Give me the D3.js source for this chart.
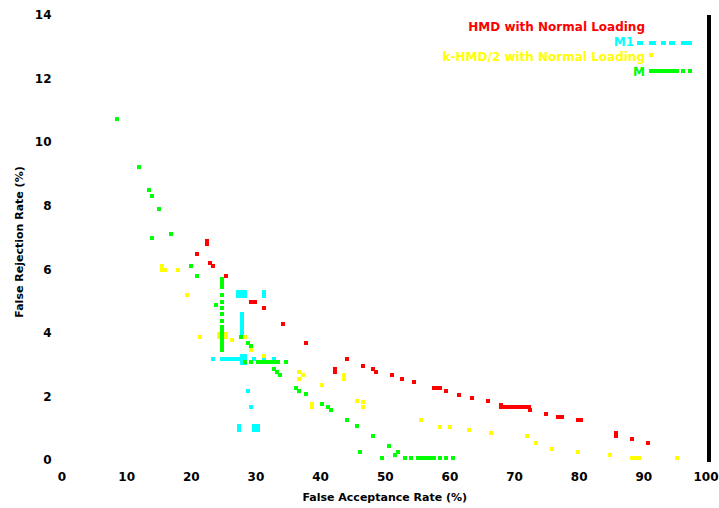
<!DOCTYPE html>
<html>
<head>
<meta charset="utf-8">
<script src="https://cdn.jsdelivr.net/npm/d3@7"></script>
<style>
  body { margin: 0; background: #fff; }
  svg { display: block; }
  text { font-family: "DejaVu Sans", sans-serif; font-weight: bold; }
</style>
</head>
<body>
<div id="chart"></div>
<script>
// tick labels
var xTicks = [0, 10, 20, 30, 40, 50, 60, 70, 80, 90, 100];
var yTicks = [0, 2, 4, 6, 8, 10, 12, 14];

// series (x = false acceptance %, y = false rejection %)
var hmdPoints = [[20.96,6.48],[22.51,6.89],[22.51,6.80],[22.97,6.20],[23.43,6.09],[25.45,5.79],
  [29.31,4.97],[29.93,4.97],[31.32,4.78],[34.26,4.28],[37.82,3.68],[42.23,2.86],[42.23,2.77],
  [44.16,3.18],[46.64,2.96],[48.18,2.86],[48.65,2.77],[51.12,2.67],[52.67,2.56],[54.60,2.45],
  [57.62,2.27],[58.24,2.27],[58.54,2.27],[59.55,2.17],[61.48,2.06],[63.50,1.95],[65.97,1.86],
  [67.98,1.73],[67.98,1.67],[68.60,1.67],[69.22,1.67],[69.84,1.67],[70.46,1.67],[71.08,1.67],
  [71.69,1.67],[72.31,1.67],[72.47,1.56],[74.94,1.45],[76.80,1.35],[77.42,1.35],[79.89,1.26],
  [80.36,1.26],[85.77,0.85],[85.77,0.76],[88.25,0.66],[90.72,0.55]];

var m1Points = [[27.30,5.29],[27.92,5.29],[28.46,5.29],[27.30,5.16],[27.92,5.16],[28.46,5.16],
  [31.32,5.29],[31.32,5.16],
  [27.92,4.59],[27.92,4.47],[27.92,4.34],[27.92,4.22],[27.92,4.09],[27.92,4.00],
  [23.43,3.18],[24.83,3.18],[25.45,3.18],[26.07,3.18],[26.68,3.18],[27.30,3.18],[27.92,3.18],
  [28.46,3.18],[29.85,3.18],[31.32,3.18],[32.87,3.18],
  [27.92,3.27],[28.46,3.27],[27.92,3.05],[28.46,3.05],
  [28.85,2.17],[29.31,1.67],[27.38,1.07],[27.38,0.94],[29.78,1.07],[30.39,1.07],[29.78,0.94],[30.39,0.94]];

var khmdPoints = [[15.55,6.10],[15.55,5.98],[16.01,5.98],[18.02,5.98],[19.41,5.19],[21.42,3.87],
  [24.36,3.96],[24.36,3.87],[25.45,3.96],[25.45,3.87],[26.37,3.78],[28.38,3.87],[29.31,3.46],
  [31.32,3.27],[36.74,2.77],[36.74,2.56],[37.36,2.67],[40.29,2.36],[43.70,2.67],[43.70,2.55],
  [38.75,1.76],[38.75,1.67],[45.71,1.86],[46.64,1.82],[46.64,1.67],[55.61,1.26],[58.54,1.05],
  [60.09,1.05],[63.03,0.94],[66.43,0.85],[71.93,0.76],[73.40,0.55],[75.87,0.35],[79.89,0.25],
  [84.84,0.16],[88.25,0.05],[88.86,0.05],[89.33,0.05],[95.20,0.05]];

var mPoints = [[8.60,10.73],[11.99,9.22],[13.53,8.49],[14.00,8.31],[15.08,7.90],[16.94,7.11],
  [14.00,6.98],[20.03,6.10],[20.96,5.79],[23.90,4.88],
  [24.90,5.69],[24.90,5.57],[24.90,5.44],[24.90,5.19],[24.90,4.97],[24.90,4.78],[24.90,4.59],
  [24.90,4.37],[24.90,4.18],[24.90,4.06],[24.90,3.93],[24.90,3.81],[24.90,3.68],[24.90,3.55],
  [24.90,3.46],
  [27.84,3.87],[28.85,3.68],[29.31,3.59],
  [28.38,3.07],[29.31,3.07],[30.39,3.07],[31.01,3.07],[31.63,3.07],[32.25,3.07],[32.87,3.07],
  [33.49,3.07],[34.73,3.07],
  [32.87,2.86],[33.33,2.77],[33.80,2.67],[36.27,2.27],[36.74,2.17],[37.82,2.08],[40.29,1.76],
  [41.22,1.67],[41.69,1.57],[44.16,1.26],[45.71,1.07],[46.17,0.25],[48.18,0.76],[49.57,0.06],
  [50.66,0.44],[51.59,0.16],[52.06,0.25],[53.13,0.06],[54.06,0.06],[55.14,0.06],[55.76,0.06],
  [56.38,0.06],[57.00,0.06],[57.61,0.06],[58.54,0.06],[59.47,0.06],[60.55,0.06]];

var seriesNames = ["HMD with Normal Loading", "M1", "k-HMD/2 with Normal Loading", "M"];
var seriesColors = ["#ff0000", "#00ffff", "#ffff00", "#00ff00"];
var seriesData = [hmdPoints, m1Points, khmdPoints, mPoints];

var width = 719, height = 508;
var plot = {left: 61.5, right: 708, top: 15, bottom: 460};

var svg = d3.select("#chart").append("svg")
    .attr("width", width)
    .attr("height", height)
    .style("background", "#fff");

var x = d3.scaleLinear().domain([0, 100]).range([plot.left, plot.right]);
var y = d3.scaleLinear().domain([0, 14]).range([plot.bottom, plot.top]);

// axes: labels only, like the reference
var xAxis = svg.append("g")
    .attr("transform", "translate(0," + plot.bottom + ")")
    .call(d3.axisBottom(x).tickValues(xTicks).tickSize(0).tickPadding(12));
xAxis.select(".domain").remove();
xAxis.selectAll("text")
    .style("font-size", "12px")
    .attr("fill", "#000")
    .attr("text-anchor", function(d){ return d == 100 ? "end" : "middle"; })
    .attr("dx", function(d){ return d == 100 ? "10px" : 0; });

var yAxis = svg.append("g")
    .attr("transform", "translate(" + plot.left + ",0)")
    .call(d3.axisLeft(y).tickValues(yTicks).tickSize(0).tickPadding(10));
yAxis.select(".domain").remove();
yAxis.selectAll("text").style("font-size", "12px").attr("fill", "#000");

// right border
svg.append("rect")
    .attr("x", plot.right - 1)
    .attr("y", plot.top)
    .attr("width", 4)
    .attr("height", plot.bottom - plot.top + 2)
    .attr("fill", "#000");

// axis titles
svg.append("text")
    .attr("x", (plot.left + plot.right) / 2)
    .attr("y", 501)
    .attr("text-anchor", "middle")
    .style("font-size", "11px")
    .text("False Acceptance Rate (%)");

svg.append("text")
    .attr("transform", "translate(23," + 242 + ") rotate(-90)")
    .attr("text-anchor", "middle")
    .style("font-size", "11px")
    .text("False Rejection Rate (%)");

// points
seriesData.forEach(function(points, i){
    svg.append("g")
        .selectAll("rect")
        .data(points)
        .enter().append("rect")
        .attr("x", function(d){ return x(d[0]) - 2; })
        .attr("y", function(d){ return y(d[1]) - 2; })
        .attr("width", 4)
        .attr("height", 4)
        .attr("fill", seriesColors[i])
        .attr("shape-rendering", "crispEdges");
});

// legend
var legend = svg.append("g");
var labelEnds = [645, 634, 645, 645];
seriesNames.forEach(function(name, i){
    var base = 31 + i * 15;
    legend.append("text")
        .attr("x", labelEnds[i])
        .attr("y", base)
        .attr("text-anchor", "end")
        .attr("fill", seriesColors[i])
        .style("font-size", "12px")
        .text(name);
    if (i == 1) {
        legend.append("line")
            .attr("x1", 637).attr("x2", 692)
            .attr("y1", base - 3).attr("y2", base - 3)
            .attr("stroke", seriesColors[i])
            .attr("stroke-width", 4)
            .attr("stroke-dasharray", "6,6,7,5,5,3,6,6,11");
    } else if (i == 2) {
        legend.append("rect")
            .attr("x", 649).attr("y", base - 8)
            .attr("width", 4).attr("height", 4)
            .attr("fill", seriesColors[i]);
    } else if (i == 3) {
        legend.append("line")
            .attr("x1", 649).attr("x2", 692)
            .attr("y1", base - 5).attr("y2", base - 5)
            .attr("stroke", seriesColors[i])
            .attr("stroke-width", 4)
            .attr("stroke-dasharray", "30,2,4,3,4");
    }
});
</script>
</body>
</html>
